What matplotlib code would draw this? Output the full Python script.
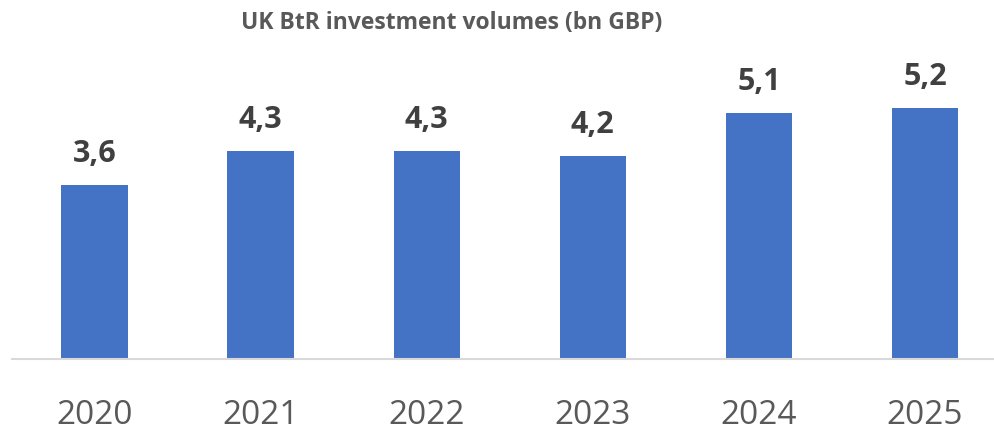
import matplotlib
matplotlib.use("Agg")
import matplotlib.pyplot as plt

years = ["2020", "2021", "2022", "2023", "2024", "2025"]
values = [3.6, 4.3, 4.3, 4.2, 5.1, 5.2]
labels = ["3,6", "4,3", "4,3", "4,2", "5,1", "5,2"]
title = "UK BtR investment volumes (bn GBP)"

W, H = 995, 431
fig = plt.figure(figsize=(W / 100, H / 100), dpi=100)
plt.rcParams['font.family'] = ['Open Sans', 'DejaVu Sans']

left_px, right_px = 11.5, 995
base_px = 360
ppu = 48.3
ymax = 6.0
ax = fig.add_axes([left_px / W, (H - base_px) / H, (right_px - left_px) / W, ymax * ppu / H])

x = list(range(len(years)))
ax.bar(x, values, width=0.40, color="#4472C4", zorder=2)
ax.set_xlim(-0.5, -0.5 + (right_px - left_px) / 166.1)
ax.set_ylim(0, ymax)

for xi, v, lab in zip(x, values, labels):
    ax.annotate(lab, (xi, v), xytext=(0, 17), textcoords="offset pixels",
                ha="center", va="bottom", fontsize=22, fontweight="bold", color="#404040")

for s in ["top", "right", "left"]:
    ax.spines[s].set_visible(False)
ax.spines["bottom"].set_color("#D9D9D9")
ax.spines["bottom"].set_linewidth(1.5)
ax.set_yticks([])
ax.set_xticks(x)
ax.set_xticklabels(years, fontsize=24, color="#595959")
ax.tick_params(axis="x", length=0, pad=28)

fig.text(452 / W, 1 - 23 / H, title, ha="center", va="center", fontsize=16.5,
         fontweight="bold", color="#595959")

fig.savefig("out.png", dpi=100)
